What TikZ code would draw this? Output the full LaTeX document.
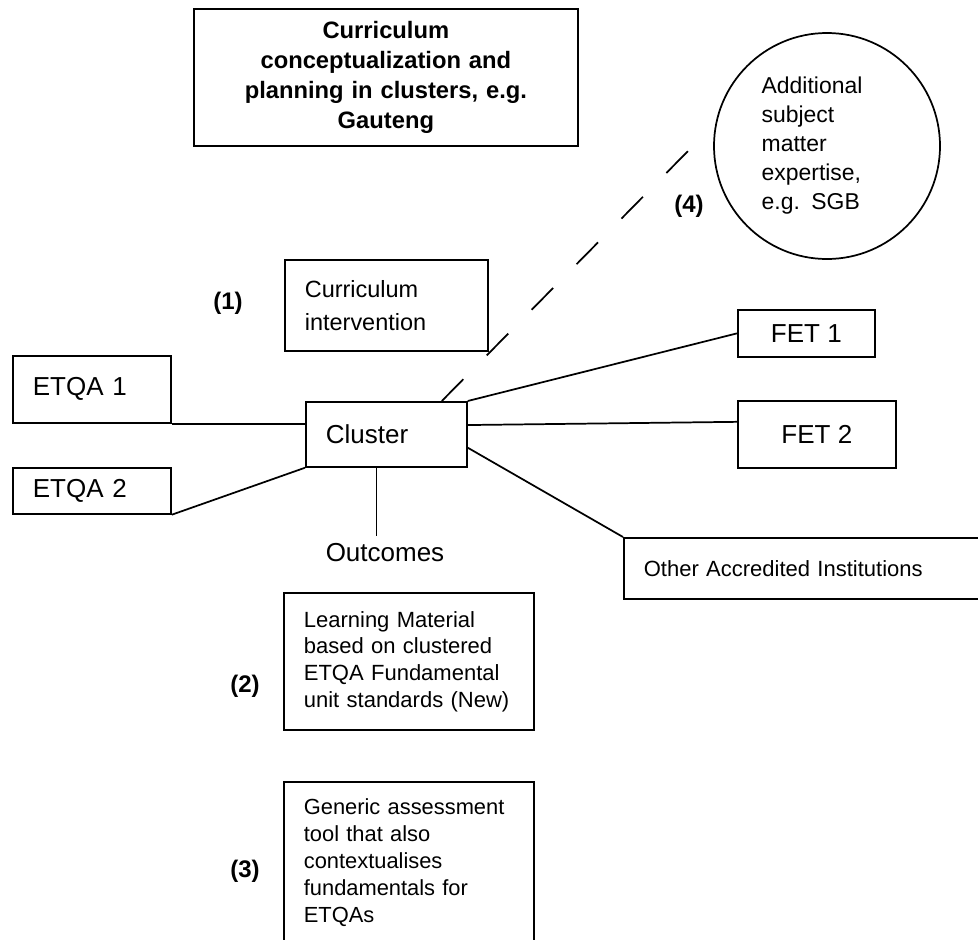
\documentclass[tikz,border=0pt]{standalone}
\usepackage{fontspec}
\setmainfont{Liberation Sans}

\begin{document}
\begin{tikzpicture}[x=0.75pt, y=-0.75pt, line width=1.3pt,
    box/.style={draw, anchor=north west, inner ysep=0pt},
    lbox/.style={box, align=left, inner xsep=15pt},
    cbox/.style={box, align=center, inner xsep=0pt},
    num/.style={font=\fontsize{18}{21}\selectfont\bfseries}]
  \def\big{\fontsize{19.5}{23}\selectfont}
  \def\mid{\fontsize{16.5}{20}\selectfont}

  \useasboundingbox (0,0) rectangle (978,939);
  \clip (0,0) rectangle (978,939);

  \node[cbox, minimum width=288pt, minimum height=102.75pt, text width=276pt,
        font=\fontsize{17.8}{22.5}\selectfont\bfseries] (plan) at (193,8)
        {Curriculum\\ conceptualization and\\ planning in clusters, e.g.\\ Gauteng};

  \node[circle, draw, minimum size=169.5pt, inner sep=0pt, align=left, text width=98pt,
        font=\fontsize{17.2}{21.75}\selectfont] (sgb) at (827,146)
        {Additional\\ subject\\ matter\\ expertise,\\ e.g. SGB};

  \node[lbox, minimum width=152.25pt, minimum height=68.25pt, text width=122.25pt,
        font=\fontsize{17.6}{24.75}\selectfont] (interv) at (284,259)
        {Curriculum\\ intervention};

  \node[lbox, minimum width=118.5pt, minimum height=50.25pt, text width=88.5pt, font=\big] (etqa1) at (12,355) {ETQA 1};
  \node[lbox, minimum width=118.5pt, minimum height=34.5pt, text width=88.5pt, font=\big] (etqa2) at (12,467) {ETQA 2};
  \node[lbox, minimum width=120.75pt, minimum height=48.75pt, text width=90.75pt, font=\big] (cluster) at (305,401) {Cluster};

  \node[cbox, minimum width=102.75pt, minimum height=35.25pt, font=\big] (fet1) at (737,309) {FET 1};
  \node[cbox, minimum width=118.5pt, minimum height=50.25pt, font=\big] (fet2) at (737,400) {FET 2};

  \node[lbox, minimum width=300pt, minimum height=45.75pt, text width=270pt, font=\mid] (other) at (623,537)
        {Other Accredited Institutions};

  \node[font=\big, inner sep=5pt] (outc) at (385,553) {Outcomes};

  \node[lbox, minimum width=187.5pt, minimum height=102.75pt, text width=157.5pt, font=\mid] (learn) at (283,592)
        {Learning Material\\ based on clustered\\ ETQA Fundamental\\ unit standards (New)};

  \node[lbox, minimum width=187.5pt, minimum height=121.5pt, text width=157.5pt,
        font=\fontsize{16.4}{20.25}\selectfont] (generic) at (283,781)
        {Generic assessment\\ tool that also\\ contextualises\\ fundamentals for\\ ETQAs};

  \node[num] (n1) at (228,303) {(1)};
  \node[num] (n2) at (245,686) {(2)};
  \node[num] (n3) at (245,871) {(3)};
  \node[num] (n4) at (689,206) {(4)};

  \draw (etqa1.south east) -- (etqa1.south east -| cluster.west);
  \draw (etqa2.south east) -- (cluster.south west);
  \draw (cluster.north east) -- (fet1.west);
  \draw ([yshift=7pt]cluster.east) -- ([yshift=9.4pt]fet2.west);
  \draw ([yshift=-10pt]cluster.east) -- (other.north west);
  \draw ([xshift=-7.5pt]cluster.south) coordinate (o1) -- (o1 |- outc.north);

  \coordinate (sgbend) at (689,150);
  \draw[dash pattern=on 23pt off 25pt] ([xshift=41.6pt]cluster.north) -- (sgbend);
\end{tikzpicture}
\end{document}
